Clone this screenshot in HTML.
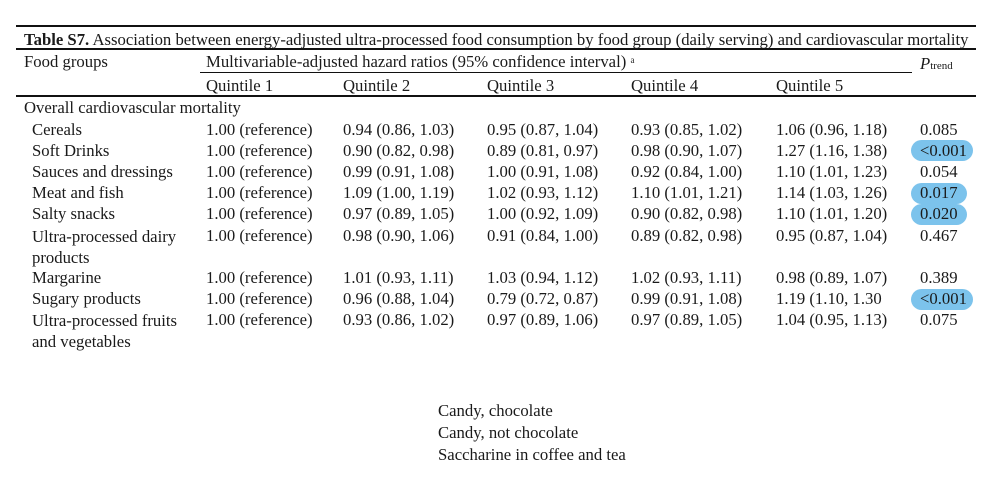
<!DOCTYPE html>
<html><head><meta charset="utf-8"><style>
html,body{margin:0;padding:0;background:#fff;}
body{width:1000px;height:491px;position:relative;overflow:hidden;font-family:"Liberation Serif",serif;font-size:16.7px;color:#1a1a1a;}
.t{position:absolute;line-height:18px;white-space:nowrap;}
.l{position:absolute;background:#111;}
.h{position:absolute;background:#7cc3ec;border-radius:11px;height:21px;}
</style></head><body>
<div class="l" style="left:16px;top:25px;width:960px;height:2px"></div>
<div class="l" style="left:16px;top:48px;width:960px;height:2px"></div>
<div class="l" style="left:200px;top:72px;width:712px;height:1px"></div>
<div class="l" style="left:16px;top:95px;width:960px;height:2px"></div>
<div class="t" style="left:24px;top:31px"><b>Table S7.</b> Association between energy-adjusted ultra-processed food consumption by food group (daily serving) and cardiovascular mortality</div>
<div class="t" style="left:24px;top:53px">Food groups</div>
<div class="t" style="left:206px;top:53px">Multivariable-adjusted hazard ratios (95% confidence interval) <span style="font-size:9px;vertical-align:top;position:relative;top:-2px">a</span></div>
<div class="t" style="left:920px;top:55px"><i>P</i><span style="font-size:11px">trend</span></div>
<div class="t" style="left:206px;top:77px">Quintile 1</div>
<div class="t" style="left:343px;top:77px">Quintile 2</div>
<div class="t" style="left:487px;top:77px">Quintile 3</div>
<div class="t" style="left:631px;top:77px">Quintile 4</div>
<div class="t" style="left:776px;top:77px">Quintile 5</div>
<div class="t" style="left:24px;top:99px">Overall cardiovascular mortality</div>
<div class="h" style="left:911px;top:140px;width:62px"></div>
<div class="h" style="left:911px;top:183px;width:56px"></div>
<div class="h" style="left:911px;top:204px;width:56px"></div>
<div class="h" style="left:911px;top:289px;width:62px"></div>
<div id="rows"></div>
<div class="t" style="left:438px;top:402px">Candy, chocolate</div>
<div class="t" style="left:438px;top:424px">Candy, not chocolate</div>
<div class="t" style="left:438px;top:446px">Saccharine in coffee and tea</div>
<script>
var r=[
[121,"Cereals","0.94 (0.86, 1.03)","0.95 (0.87, 1.04)","0.93 (0.85, 1.02)","1.06 (0.96, 1.18)","0.085"],
[142,"Soft Drinks","0.90 (0.82, 0.98)","0.89 (0.81, 0.97)","0.98 (0.90, 1.07)","1.27 (1.16, 1.38)","&lt;0.001"],
[163,"Sauces and dressings","0.99 (0.91, 1.08)","1.00 (0.91, 1.08)","0.92 (0.84, 1.00)","1.10 (1.01, 1.23)","0.054"],
[184,"Meat and fish","1.09 (1.00, 1.19)","1.02 (0.93, 1.12)","1.10 (1.01, 1.21)","1.14 (1.03, 1.26)","0.017"],
[205,"Salty snacks","0.97 (0.89, 1.05)","1.00 (0.92, 1.09)","0.90 (0.82, 0.98)","1.10 (1.01, 1.20)","0.020"],
[227,"Ultra-processed dairy<br>products","0.98 (0.90, 1.06)","0.91 (0.84, 1.00)","0.89 (0.82, 0.98)","0.95 (0.87, 1.04)","0.467"],
[269,"Margarine","1.01 (0.93, 1.11)","1.03 (0.94, 1.12)","1.02 (0.93, 1.11)","0.98 (0.89, 1.07)","0.389"],
[290,"Sugary products","0.96 (0.88, 1.04)","0.79 (0.72, 0.87)","0.99 (0.91, 1.08)","1.19 (1.10, 1.30","&lt;0.001"],
[311,"Ultra-processed fruits<br>and vegetables","0.93 (0.86, 1.02)","0.97 (0.89, 1.06)","0.97 (0.89, 1.05)","1.04 (0.95, 1.13)","0.075"]];
var xs=[32,343,487,631,776,920],h="";
r.forEach(function(a){
 var lh=a[1].indexOf("<br>")>0?"line-height:21px;":"";
 h+='<div class="t" style="left:32px;top:'+(a[0]-(lh?1.5:0))+'px;'+lh+'">'+a[1]+'</div>';
 h+='<div class="t" style="left:206px;top:'+a[0]+'px">1.00 (reference)</div>';
 for(var i=1;i<6;i++)h+='<div class="t" style="left:'+xs[i]+'px;top:'+a[0]+'px">'+a[i+1]+'</div>';
});
document.getElementById("rows").innerHTML=h;
</script>
</body></html>
